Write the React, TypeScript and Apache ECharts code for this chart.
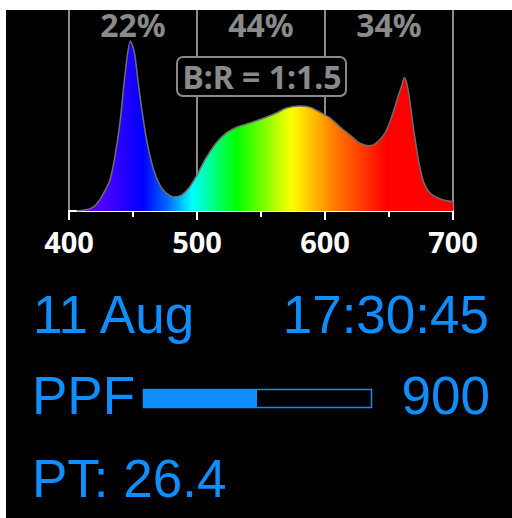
import React, { useEffect, useRef } from "react";
import * as echarts from "echarts";

// Spectrum (wavelength in nm, relative intensity)
const wavelengths = [406, 412, 416, 420, 424, 428, 432, 436, 440, 444, 448, 451, 454, 457, 461, 466, 471, 476, 482, 488, 494, 500, 507, 515, 523, 531, 539, 547, 554, 562, 570, 580, 588, 596, 604, 612, 620, 627, 634, 640, 647, 652, 657, 660, 662, 665, 669, 673, 677, 682, 690, 700];
const intensity = [0, 0.6, 1.2, 3, 6.6, 12, 18.5, 33, 54, 83, 101.5, 95, 77, 60, 41, 25, 15.5, 10.7, 8.4, 9.5, 14, 21.5, 31.5, 40.6, 46.6, 50, 52, 54, 56, 58.5, 61.5, 62.7, 62, 59, 55.5, 50, 45, 40.6, 39, 40.6, 46.6, 56, 68, 75, 79.5, 72, 50, 30.4, 17.3, 10.7, 7.2, 5.5];

const axisTicks = [400, 500, 600, 700];
const bandCenters = [450, 550, 650];
const bandShares = [22, 44, 34];
const ratioLabel = "B:R = 1:1.5";

const dateText = "11 Aug";
const timeText = "17:30:45";
const ppfLabel = "PPF";
const ppfValue = 900;
const ppfMax = 1800;
const ptValue = 26.4;

const spectrumStops: [number, string][] = [
  [406, "#7a00ff"],
  [420, "#5a00ff"],
  [458, "#0000ff"],
  [478, "#0070ff"],
  [496, "#00ffff"],
  [531, "#00ff00"],
  [574, "#ffff00"],
  [606, "#ff8000"],
  [648, "#ff0000"],
  [700, "#ff0000"],
];

const BLUE = "#0e8eff";
const GRAY = "#8a8a8a";

export default function App() {
  const ref = useRef<HTMLDivElement>(null);
  useEffect(() => {
    if (!ref.current) return;
    const chart = echarts.init(ref.current, undefined, { renderer: "svg" });
    const wMin = wavelengths[0];
    const wMax = wavelengths[wavelengths.length - 1];
    const stops = spectrumStops.map(([w, c]) => ({ offset: (w - wMin) / (wMax - wMin), color: c }));
    const option: any = {
      animation: false,
      backgroundColor: "#fff",
      grid: [
        { left: 69, right: 59, top: 10, bottom: 307 },
        { left: 143, top: 389, width: 228, height: 18 },
      ],
      xAxis: [
        {
          type: "value",
          min: axisTicks[0],
          max: axisTicks[axisTicks.length - 1],
          interval: 100,
          axisLine: { show: true, onZero: false, lineStyle: { color: "#fff", width: 2 } },
          axisTick: { show: true, length: 9, lineStyle: { color: "#fff", width: 2 } },
          minorTick: { show: true, splitNumber: 2, length: 6, lineStyle: { color: "#fff", width: 2 } },
          splitLine: { show: true, lineStyle: { color: GRAY, width: 2 } },
          axisLabel: {
            color: "#fff",
            fontFamily: "Noto Sans",
            fontWeight: "bold",
            fontSize: 29,
            margin: 16,
            showMinLabel: true,
            showMaxLabel: true,
          },
        },
        { gridIndex: 1, type: "value", min: 0, max: ppfMax, show: false },
      ],
      yAxis: [
        { type: "value", min: 0, max: 120, show: false, splitLine: { show: false } },
        { gridIndex: 1, type: "category", data: [ppfLabel], show: false },
      ],
      series: [
        {
          type: "line",
          data: wavelengths.map((w, i) => [w, intensity[i]]),
          smooth: 0.3,
          symbol: "none",
          lineStyle: { color: "#6e6e6e", width: 1.5 },
          areaStyle: { opacity: 1, color: new echarts.graphic.LinearGradient(0, 0, 1, 0, stops) },
          z: 3,
        },
        {
          type: "bar",
          xAxisIndex: 1,
          yAxisIndex: 1,
          data: [ppfValue],
          barWidth: 18,
          itemStyle: { color: BLUE },
        },
      ],
    };
    chart.setOption(option);

    const big = (text: string, x: number, y: number, align: string) => ({
      type: "text",
      x,
      y,
      style: { text, fill: BLUE, font: "53px 'Liberation Sans'", align, verticalAlign: "middle" },
    });

    const pctTexts = bandCenters.map((c, i) => {
      const px = chart.convertToPixel({ xAxisIndex: 0 }, c) as number;
      return {
        type: "text",
        x: px,
        y: 24,
        style: {
          text: bandShares[i] + "%",
          fill: GRAY,
          font: "bold 32px 'Noto Sans'",
          align: "center",
          verticalAlign: "middle",
        },
        z: 10,
      };
    });

    chart.setOption({
      graphic: [
        {
          type: "rect",
          shape: { x: 6, y: 10, width: 506, height: 508 },
          style: { fill: "#000" },
          z: -100,
        },
        ...pctTexts,
        {
          type: "rect",
          shape: { x: 177, y: 57, width: 169, height: 39, r: 6 },
          style: { fill: "#000", stroke: GRAY, lineWidth: 2 },
          z: 10,
        },
        {
          type: "text",
          x: 262,
          y: 76,
          style: { text: ratioLabel, fill: GRAY, font: "bold 32px 'Noto Sans'", align: "center", verticalAlign: "middle" },
          z: 11,
        },
        big(dateText, 33, 314, "left"),
        big(timeText, 489, 314, "right"),
        big(ppfLabel, 32, 395, "left"),
        big(String(ppfValue), 490, 395, "right"),
        big("PT: " + ptValue.toFixed(1), 32, 478, "left"),
        {
          type: "rect",
          shape: { x: 143.5, y: 389.5, width: 228, height: 18 },
          style: { fill: "none", stroke: BLUE, lineWidth: 1.5 },
          z: 10,
        },
      ],
    });
    return () => chart.dispose();
  }, []);
  return (
    <div
      ref={ref}
      style={{ position: "absolute", left: 0, top: 0, width: 512, height: 518 }}
    />
  );
}
